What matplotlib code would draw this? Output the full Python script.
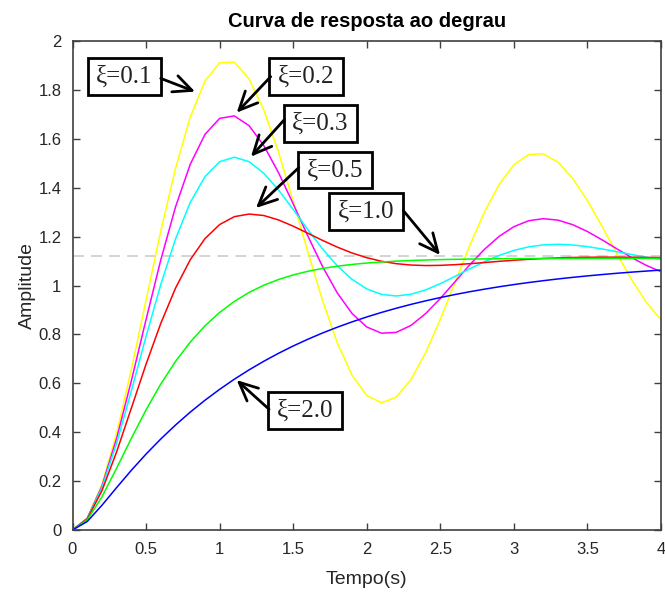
import numpy as np
import matplotlib
matplotlib.use("Agg")
import matplotlib.pyplot as plt
from matplotlib.patches import Rectangle

plt.rcParams['font.family'] = ['Liberation Sans', 'DejaVu Sans']

# tempo (s), amostras a cada 0.1 s
tempo = np.linspace(0, 4, 41)

# respostas ao degrau
y_01 = [0, .0487, .1866, .3966, .6564, .9405, 1.2228, 1.4790, 1.6884, 1.8355,
        1.9113, 1.9133, 1.8456, 1.7182, 1.5455, 1.3453, 1.1364, .9375, .7652, .6330,
        .5499, .5203, .5436, .6148, .7249, .8620, 1.0128, 1.1633, 1.3005, 1.4133,
        1.4934, 1.5356, 1.5386, 1.5043, 1.4379, 1.3471, 1.2411, 1.1300, 1.0238, .9313,
        .8597]
y_02 = [0, .0477, .1795, .3749, .6101, .8609, 1.1044, 1.3209, 1.4953, 1.6176,
        1.6835, 1.6937, 1.6538, 1.5726, 1.4618, 1.3340, 1.2019, 1.0771, .9693, .8856,
        .8303, .8050, .8082, .8366, .8849, .9468, 1.0155, 1.0845, 1.1479, 1.2011,
        1.2406, 1.2648, 1.2734, 1.2673, 1.2487, 1.2207, 1.1866, 1.1500, 1.1143, 1.0823,
        1.0564]
y_03 = [0, .0468, .1729, .3549, .5687, .7917, 1.0041, 1.1902, 1.3392, 1.4450,
        1.5061, 1.5248, 1.5066, 1.4591, 1.3910, 1.3112, 1.2282, 1.1493, 1.0803, 1.0251,
        .9861, .9637, .9571, .9641, .9820, 1.0075, 1.0373, 1.0682, 1.0975, 1.1231,
        1.1435, 1.1579, 1.1661, 1.1685, 1.1657, 1.1590, 1.1494, 1.1383, 1.1268, 1.1159,
        1.1065]
y_05 = [0, .0450, .1607, .3197, .4985, .6783, .8449, .9889, 1.1050, 1.1914,
        1.2493, 1.2815, 1.2922, 1.2862, 1.2682, 1.2427, 1.2137, 1.1843, 1.1569, 1.1330,
        1.1137, 1.0991, 1.0893, 1.0837, 1.0816, 1.0824, 1.0852, 1.0892, 1.0939, 1.0988,
        1.1033, 1.1072, 1.1104, 1.1129, 1.1146, 1.1155, 1.1159, 1.1158, 1.1154, 1.1147,
        1.1140]
y_10 = [0, .0410, .1355, .2528, .3749, .4913, .5969, .6893, .7684, .8348,
        .8898, .9349, .9715, 1.0009, 1.0245, 1.0432, 1.0581, 1.0698, 1.0790, 1.0862,
        1.0918, 1.0962, 1.0996, 1.1023, 1.1043, 1.1059, 1.1071, 1.1080, 1.1088, 1.1093,
        1.1097, 1.1101, 1.1103, 1.1105, 1.1107, 1.1108, 1.1108, 1.1109, 1.1110, 1.1110,
        1.1110]
y_20 = [0, .0346, .1010, .1736, .2442, .3106, .3722, .4292, .4819, .5305,
        .5753, .6167, .6549, .6901, .7226, .7526, .7803, .8059, .8295, .8512,
        .8713, .8898, .9069, .9227, .9372, .9507, .9631, .9745, .9850, .9948,
        1.0038, 1.0121, 1.0197, 1.0268, 1.0333, 1.0393, 1.0448, 1.0500, 1.0547, 1.0590,
        1.0631]
regime = 1.12

curvas = [y_01, y_02, y_03, y_05, y_10, y_20]
cores = ['#ffff00', '#ff00ff', '#00ffff', '#ff0000', '#00ff00', '#0000ff']

# rotulos: texto, centro da caixa, inicio e ponta da seta
rotulos = ['ξ=0.1', 'ξ=0.2', 'ξ=0.3', 'ξ=0.5', 'ξ=1.0', 'ξ=2.0']
centros = [(0.354, 1.855), (1.587, 1.855), (1.686, 1.663), (1.785, 1.472), (1.995, 1.302), (1.581, 0.489)]
caudas = [(0.600, 1.847), (1.347, 1.854), (1.438, 1.677), (1.538, 1.482), (2.249, 1.306), (1.336, 0.494)]
pontas = [(0.833, 1.793), (1.116, 1.707), (1.213, 1.527), (1.247, 1.317), (2.498, 1.125), (1.116, 0.613)]

fig = plt.figure(figsize=(6.65, 5.92), dpi=100)
ax = fig.add_axes([72.5 / 665, 1 - 530 / 592, 588.5 / 665, 489 / 592])

ax.axhline(regime, color='#d0d0d0', ls=(0, (6, 4)), lw=1.3, zorder=1)
for y, c in zip(curvas, cores):
    ax.plot(tempo, y, color=c, lw=1.1, zorder=2)

for txt, (cx, cy), cauda, ponta in zip(rotulos, centros, caudas, pontas):
    ax.add_patch(Rectangle((cx - 0.25, cy - 0.075), 0.5, 0.15, fc='white', ec='black', lw=2, zorder=5))
    ax.text(cx, cy, txt, ha='center', va='center', fontsize=18, family=['Liberation Serif', 'DejaVu Serif'],
            color='#222222', zorder=6)
    ax.annotate('', xy=ponta, xytext=cauda, zorder=7,
                arrowprops=dict(arrowstyle='->,head_length=0.6,head_width=0.28', lw=2, color='black',
                                mutation_scale=22, shrinkA=0, shrinkB=0))

ax.set_xlim(0, 4)
ax.set_ylim(0, 2)
ax.set_xticks(np.arange(0, 4.01, 0.5))
ax.set_xticklabels(['0', '0.5', '1', '1.5', '2', '2.5', '3', '3.5', '4'])
ax.set_yticks(np.arange(0, 2.01, 0.2))
ax.set_yticklabels(['0', '0.2', '0.4', '0.6', '0.8', '1', '1.2', '1.4', '1.6', '1.8', '2'])
ax.tick_params(direction='in', top=True, right=True, length=5, width=1, colors='#404040',
               labelcolor='#262626', labelsize=12)
ax.tick_params(axis='x', pad=9)
ax.tick_params(axis='y', pad=8)
for s in ax.spines.values():
    s.set_color('#404040')
    s.set_linewidth(1.2)

ax.set_title('Curva de resposta ao degrau', fontsize=14.5, fontweight='bold', color='black', pad=10)
ax.set_xlabel('Tempo(s)', fontsize=14, color='#262626', labelpad=10)
ax.set_ylabel('Amplitude', fontsize=14, color='#262626', labelpad=2)

fig.savefig('out.png', dpi=100)
